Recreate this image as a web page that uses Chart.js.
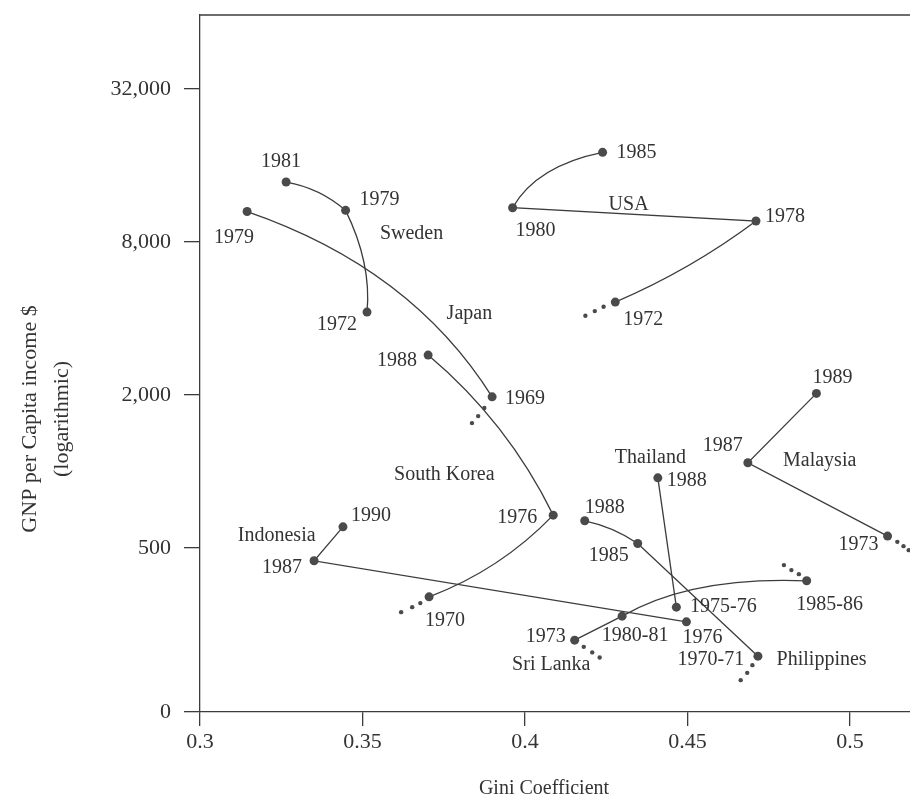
<!DOCTYPE html>
<html>
<head>
<meta charset="utf-8">
<script src="https://cdn.jsdelivr.net/npm/chart.js@4/dist/chart.umd.min.js"></script>
<style>
  html, body { margin: 0; padding: 0; background: #fff; }
</style>
</head>
<body>
<canvas id="kuznets" width="910" height="798"></canvas>
<script>
// Gini coefficient vs GNP per capita (log scale), one path per country

// Sweden
const swedenYears = ["1981", "1979", "1972"];
const swedenGini = [0.3265, 0.3448, 0.3514];
const swedenGnp = [13780, 10660, 4243];

// Japan
const japanYears = ["1979", "1969"];
const japanGini = [0.3145, 0.3899];
const japanGnp = [10550, 1969];
const japanTrailGini = [0.3875, 0.3856, 0.3837];
const japanTrailGnp = [1778, 1653, 1552];

// USA
const usaYears = ["1985", "1980", "1978", "1972"];
const usaGini = [0.4239, 0.3962, 0.4711, 0.4278];
const usaGnp = [18030, 10920, 9677, 4644];
const usaTrailGini = [0.4242, 0.4215, 0.4186];
const usaTrailGnp = [4451, 4281, 4103];

// South Korea
const koreaYears = ["1988", "1976", "1970"];
const koreaGini = [0.3702, 0.4087, 0.3705];
const koreaGnp = [2873, 674, 321.6];
const koreaTrailGini = [0.3678, 0.3653, 0.3619];
const koreaTrailGnp = [303.9, 292.9, 279.9];

// Indonesia
const indonesiaYears = ["1990", "1987", "1976"];
const indonesiaGini = [0.344, 0.3351, 0.4497];
const indonesiaGnp = [606.4, 445.8, 256.4];

// Thailand
const thailandYears = ["1988", "1975-76"];
const thailandGini = [0.4409, 0.4466];
const thailandGnp = [945, 292.9];

// Malaysia
const malaysiaYears = ["1989", "1987", "1973"];
const malaysiaGini = [0.4897, 0.4686, 0.5116];
const malaysiaGnp = [2031, 1083, 557.4];
const malaysiaTrailGini = [0.5146, 0.5165, 0.5181];
const malaysiaTrailGnp = [529.3, 508.9, 490.8];

// Philippines
const philippinesYears = ["1988", "1985", "1970-71"];
const philippinesGini = [0.4184, 0.4347, 0.4717];
const philippinesGnp = [640.4, 521.6, 187.9];
const philippinesTrailGini = [0.47, 0.4684, 0.4664];
const philippinesTrailGnp = [173.2, 161.5, 151.2];

// Sri Lanka
const sriLankaYears = ["1973", "1980-81", "1985-86"];
const sriLankaGini = [0.4153, 0.4299, 0.4867];
const sriLankaGnp = [217.2, 269.9, 371.9];
const sriLankaTrailGini = [0.4181, 0.4207, 0.423, 0.4843, 0.482, 0.4797];
const sriLankaTrailGnp = [204.4, 194.4, 185.7, 394.9, 409.8, 428.7];

// axes
const giniTicks = [0.3, 0.35, 0.4, 0.45, 0.5];
const gnpTicks = [113.3, 500, 2000, 8000, 32000];
const gnpTickLabels = ["0", "500", "2,000", "8,000", "32,000"];

// country names and where they sit (in data units)
const countryNames = ["Sweden", "Japan", "USA", "South Korea", "Indonesia", "Thailand", "Malaysia", "Philippines", "Sri Lanka"];
const nameGini = [0.3651, 0.3829, 0.4319, 0.3752, 0.3236, 0.4386, 0.4907, 0.4913, 0.4081];
const nameGnp = [8601, 4193, 11190, 969, 558.8, 1137, 1102, 181.2, 173.2];

// ---- look ----
const serif = "'Liberation Serif', 'Times New Roman', serif";
const inkText = "#333333";
const inkLine = "#3c3c3c";
const inkDot = "#4a4a4a";

function toPoints(xs, ys) {
  return xs.map((x, i) => ({ x: x, y: ys[i] }));
}

// year label offsets (px) and curvature of each segment [along, across]
function country(years, gini, gnp, offsets, bends) {
  return {
    data: toPoints(gini, gnp),
    years: years,
    offsets: offsets,
    bends: bends,
    showLine: false,
    pointRadius: 4.5,
    pointBackgroundColor: inkDot,
    pointBorderWidth: 0,
  };
}

function trail(gini, gnp) {
  return {
    data: toPoints(gini, gnp),
    showLine: false,
    pointRadius: 2.2,
    pointBackgroundColor: inkDot,
    pointBorderWidth: 0,
  };
}

const datasets = [
  country(swedenYears, swedenGini, swedenGnp, [[-5, -20], [34, -11], [-30, 13]], [[0.5, 0.14], [0.55, 0.14]]),
  country(japanYears, japanGini, japanGnp, [[-13, 26], [33, 2]], [[0.537, 0.176]]),
  country(usaYears, usaGini, usaGnp, [[34, 0], [23, 23], [29, -4], [28, 18]], [[0.6, -0.22], [0.5, 0], [0.5, 0.06]]),
  country(koreaYears, koreaGini, koreaGnp, [[-31, 6], [-36, 3], [16, 24]], [[0.5, 0.105], [0.5, 0.113]]),
  country(indonesiaYears, indonesiaGini, indonesiaGnp, [[28, -11], [-32, 7], [16, 16]], [[0.5, 0], [0.5, 0]]),
  country(thailandYears, thailandGini, thailandGnp, [[29, 3], [47, 0]], [[0.5, 0]]),
  country(malaysiaYears, malaysiaGini, malaysiaGnp, [[16, -16], [-25, -17], [-29, 9]], [[0.5, 0], [0.5, 0]]),
  country(philippinesYears, philippinesGini, philippinesGnp, [[20, -13], [-29, 12], [-47, 4]], [[0.5, 0.1], [0.5, 0]]),
  country(sriLankaYears, sriLankaGini, sriLankaGnp, [[-29, -3], [13, 20], [23, 24]], [[0.5, 0], [0.4, 0.14]]),
  trail(japanTrailGini, japanTrailGnp),
  trail(usaTrailGini, usaTrailGnp),
  trail(koreaTrailGini, koreaTrailGnp),
  trail(malaysiaTrailGini, malaysiaTrailGnp),
  trail(philippinesTrailGini, philippinesTrailGnp),
  trail(sriLankaTrailGini, sriLankaTrailGnp),
];

// paths, labels, frame and axis titles
const annotate = {
  id: "annotate",
  beforeDatasetsDraw(chart) {
    const ctx = chart.ctx;
    const area = chart.chartArea;
    ctx.save();
    ctx.beginPath();
    ctx.rect(area.left, area.top, area.right - area.left, area.bottom - area.top);
    ctx.clip();
    ctx.strokeStyle = inkLine;
    ctx.lineWidth = 1.3;
    chart.data.datasets.forEach((ds, i) => {
      if (!ds.bends) return;
      const pts = chart.getDatasetMeta(i).data;
      ctx.beginPath();
      ctx.moveTo(pts[0].x, pts[0].y);
      for (let k = 1; k < pts.length; k++) {
        const a = pts[k - 1], b = pts[k];
        const u = ds.bends[k - 1][0], v = ds.bends[k - 1][1];
        const dx = b.x - a.x, dy = b.y - a.y;
        ctx.quadraticCurveTo(a.x + u * dx + v * dy, a.y + u * dy - v * dx, b.x, b.y);
      }
      ctx.stroke();
    });
    ctx.restore();
  },
  afterDatasetsDraw(chart) {
    const ctx = chart.ctx;
    const area = chart.chartArea;
    const xs = chart.scales.x, ys = chart.scales.y;
    ctx.save();
    ctx.fillStyle = inkText;
    ctx.textAlign = "center";
    ctx.textBaseline = "middle";
    ctx.font = "20px " + serif;
    chart.data.datasets.forEach((ds, i) => {
      if (!ds.years) return;
      const pts = chart.getDatasetMeta(i).data;
      ds.years.forEach((yr, k) => {
        ctx.fillText(yr, pts[k].x + ds.offsets[k][0], pts[k].y + ds.offsets[k][1]);
      });
    });
    countryNames.forEach((name, i) => {
      ctx.fillText(name, xs.getPixelForValue(nameGini[i]), ys.getPixelForValue(nameGnp[i]));
    });

    // top edge of the frame
    ctx.strokeStyle = inkLine;
    ctx.lineWidth = 1.3;
    ctx.beginPath();
    ctx.moveTo(area.left, area.top);
    ctx.lineTo(area.right, area.top);
    ctx.stroke();

    // axis titles
    ctx.font = "20px " + serif;
    ctx.fillText("Gini Coefficient", 544, 789);
    ctx.translate(0, 419);
    ctx.rotate(-Math.PI / 2);
    ctx.font = "22px " + serif;
    ctx.fillText("GNP per Capita income $", 0, 30);
    ctx.fillText("(logarithmic)", 0, 62);
    ctx.restore();
  },
};

new Chart(document.getElementById("kuznets"), {
  type: "scatter",
  data: { datasets: datasets },
  plugins: [annotate],
  options: {
    responsive: false,
    animation: false,
    layout: { autoPadding: false, padding: { top: 15, right: 0, left: 0, bottom: 0 } },
    plugins: { legend: { display: false }, tooltip: { enabled: false } },
    scales: {
      x: {
        type: "linear",
        min: 0.3,
        max: 0.5185,
        afterBuildTicks: (s) => { s.ticks = giniTicks.map((v) => ({ value: v })); },
        afterFit: (s) => { s.height = 86; s.paddingLeft = 0; s.paddingRight = 0; },
        ticks: {
          color: inkText,
          font: { family: serif, size: 22 },
          padding: 3,
          maxRotation: 0,
          callback: (v) => String(v),
        },
        grid: { drawOnChartArea: false, drawTicks: true, tickLength: 14, color: inkLine, lineWidth: 1.3 },
        border: { display: true, color: inkLine, width: 1.3 },
      },
      y: {
        type: "logarithmic",
        min: 113.3,
        max: 62570,
        afterBuildTicks: (s) => { s.ticks = gnpTicks.map((v) => ({ value: v })); },
        afterFit: (s) => { s.width = 200; s.paddingTop = 0; s.paddingBottom = 0; },
        ticks: {
          color: inkText,
          font: { family: serif, size: 22 },
          padding: 13,
          callback: (v) => gnpTickLabels[gnpTicks.indexOf(v)],
        },
        grid: { drawOnChartArea: false, drawTicks: true, tickLength: 16, color: inkLine, lineWidth: 1.3 },
        border: { display: true, color: inkLine, width: 1.3 },
      },
    },
  },
});
</script>
</body>
</html>
